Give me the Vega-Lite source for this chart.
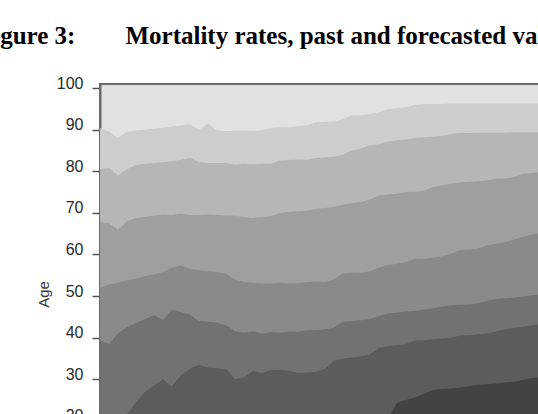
{
  "$schema": "https://vega.github.io/schema/vega-lite/v6.json",
  "autosize": {"type": "none"},
  "padding": {"left": 100, "top": 84, "right": 0, "bottom": 0},
  "width": 450,
  "height": 420,
  "background": "white",
  "title": {
    "text": "Figure 3:\u00a0\u00a0\u00a0\u00a0\u00a0\u00a0\u00a0\u00a0Mortality rates, past and forecasted values",
    "anchor": "start",
    "frame": "group",
    "dx": -122,
    "offset": 6,
    "baseline": "alphabetic",
    "font": "Liberation Serif",
    "fontSize": 25,
    "fontWeight": "bold",
    "color": "#000000"
  },
  "config": {
    "view": {"stroke": "#6a6a6a", "strokeWidth": 2, "fill": "#e1e1e1"},
    "axis": {"grid": false, "zindex": 1}
  },
  "data": {
    "values": [
      {"year": 1900, "b1": 90.4, "b2": 80.5, "b3": 67.8, "b4": 52.0, "b5": 39.4, "b6": 14.0, "b7": 8.0},
      {"year": 1903, "b1": 89.5, "b2": 80.8, "b3": 67.5, "b4": 52.8, "b5": 38.5, "b6": 15.0, "b7": 8.5},
      {"year": 1906, "b1": 88.0, "b2": 79.0, "b3": 66.0, "b4": 53.2, "b5": 41.0, "b6": 17.0, "b7": 9.0},
      {"year": 1909, "b1": 89.5, "b2": 80.5, "b3": 68.0, "b4": 53.8, "b5": 42.5, "b6": 21.5, "b7": 9.5},
      {"year": 1912, "b1": 89.8, "b2": 81.5, "b3": 68.8, "b4": 54.2, "b5": 43.5, "b6": 24.5, "b7": 10.0},
      {"year": 1915, "b1": 90.0, "b2": 81.8, "b3": 69.0, "b4": 54.8, "b5": 44.5, "b6": 27.0, "b7": 10.5},
      {"year": 1918, "b1": 90.3, "b2": 82.0, "b3": 69.4, "b4": 55.2, "b5": 45.4, "b6": 28.5, "b7": 11.0},
      {"year": 1921, "b1": 90.5, "b2": 82.2, "b3": 69.6, "b4": 55.8, "b5": 44.3, "b6": 30.0, "b7": 11.5},
      {"year": 1924, "b1": 90.8, "b2": 82.4, "b3": 69.5, "b4": 56.8, "b5": 46.8, "b6": 28.2, "b7": 12.0},
      {"year": 1927, "b1": 91.0, "b2": 82.8, "b3": 69.8, "b4": 57.4, "b5": 46.2, "b6": 31.0, "b7": 12.5},
      {"year": 1930, "b1": 91.3, "b2": 83.2, "b3": 69.5, "b4": 56.5, "b5": 45.5, "b6": 32.5, "b7": 13.0},
      {"year": 1933, "b1": 90.0, "b2": 82.2, "b3": 69.5, "b4": 56.2, "b5": 44.0, "b6": 33.5, "b7": 13.5},
      {"year": 1936, "b1": 91.5, "b2": 82.0, "b3": 69.6, "b4": 56.0, "b5": 43.8, "b6": 32.8, "b7": 14.0},
      {"year": 1939, "b1": 89.8, "b2": 82.0, "b3": 69.5, "b4": 55.8, "b5": 43.6, "b6": 32.6, "b7": 14.5},
      {"year": 1942, "b1": 89.7, "b2": 82.0, "b3": 69.4, "b4": 55.3, "b5": 43.0, "b6": 32.4, "b7": 15.0},
      {"year": 1945, "b1": 89.7, "b2": 81.6, "b3": 69.3, "b4": 54.0, "b5": 41.6, "b6": 30.0, "b7": 15.3},
      {"year": 1948, "b1": 89.8, "b2": 81.8, "b3": 69.0, "b4": 53.4, "b5": 41.2, "b6": 30.5, "b7": 15.6},
      {"year": 1951, "b1": 89.7, "b2": 81.7, "b3": 68.8, "b4": 53.2, "b5": 41.5, "b6": 32.0, "b7": 16.0},
      {"year": 1954, "b1": 89.8, "b2": 81.8, "b3": 69.0, "b4": 53.0, "b5": 41.0, "b6": 31.5, "b7": 16.3},
      {"year": 1957, "b1": 90.4, "b2": 81.8, "b3": 69.2, "b4": 53.0, "b5": 41.3, "b6": 32.2, "b7": 16.6},
      {"year": 1960, "b1": 90.6, "b2": 82.6, "b3": 70.0, "b4": 53.2, "b5": 41.2, "b6": 32.3, "b7": 17.0},
      {"year": 1963, "b1": 90.6, "b2": 82.7, "b3": 70.2, "b4": 53.0, "b5": 41.5, "b6": 32.0, "b7": 17.3},
      {"year": 1966, "b1": 90.8, "b2": 82.8, "b3": 70.4, "b4": 53.1, "b5": 41.4, "b6": 31.5, "b7": 17.6},
      {"year": 1969, "b1": 91.0, "b2": 82.8, "b3": 70.5, "b4": 53.4, "b5": 41.8, "b6": 31.6, "b7": 18.0},
      {"year": 1972, "b1": 91.8, "b2": 83.2, "b3": 71.0, "b4": 53.5, "b5": 41.8, "b6": 31.8, "b7": 18.2},
      {"year": 1975, "b1": 91.9, "b2": 83.4, "b3": 71.2, "b4": 53.4, "b5": 42.0, "b6": 32.5, "b7": 18.4},
      {"year": 1978, "b1": 92.0, "b2": 83.5, "b3": 71.4, "b4": 54.0, "b5": 42.4, "b6": 34.5, "b7": 18.6},
      {"year": 1981, "b1": 92.5, "b2": 84.0, "b3": 72.0, "b4": 55.4, "b5": 43.8, "b6": 35.0, "b7": 18.8},
      {"year": 1984, "b1": 93.5, "b2": 85.0, "b3": 72.3, "b4": 55.6, "b5": 44.0, "b6": 35.2, "b7": 19.0},
      {"year": 1987, "b1": 93.5, "b2": 85.5, "b3": 72.6, "b4": 55.6, "b5": 44.2, "b6": 35.5, "b7": 19.2},
      {"year": 1990, "b1": 93.8, "b2": 86.3, "b3": 73.2, "b4": 56.0, "b5": 44.4, "b6": 36.0, "b7": 19.4},
      {"year": 1993, "b1": 94.2, "b2": 86.5, "b3": 74.2, "b4": 56.8, "b5": 45.2, "b6": 37.5, "b7": 19.6},
      {"year": 1996, "b1": 95.0, "b2": 87.2, "b3": 74.4, "b4": 57.5, "b5": 45.8, "b6": 38.0, "b7": 20.5},
      {"year": 1999, "b1": 95.2, "b2": 87.5, "b3": 74.6, "b4": 57.8, "b5": 46.0, "b6": 38.2, "b7": 24.3},
      {"year": 2002, "b1": 95.4, "b2": 87.6, "b3": 75.0, "b4": 58.2, "b5": 46.3, "b6": 38.5, "b7": 25.0},
      {"year": 2005, "b1": 96.0, "b2": 88.0, "b3": 75.1, "b4": 59.0, "b5": 46.4, "b6": 39.3, "b7": 25.6},
      {"year": 2008, "b1": 96.2, "b2": 88.2, "b3": 75.3, "b4": 59.0, "b5": 46.8, "b6": 39.4, "b7": 26.5},
      {"year": 2011, "b1": 96.2, "b2": 88.3, "b3": 76.2, "b4": 59.2, "b5": 47.0, "b6": 39.6, "b7": 27.4},
      {"year": 2014, "b1": 96.2, "b2": 88.5, "b3": 76.6, "b4": 59.6, "b5": 47.5, "b6": 39.8, "b7": 27.7},
      {"year": 2017, "b1": 96.3, "b2": 89.0, "b3": 77.0, "b4": 60.2, "b5": 47.8, "b6": 40.0, "b7": 27.8},
      {"year": 2020, "b1": 96.3, "b2": 89.2, "b3": 77.4, "b4": 61.0, "b5": 47.9, "b6": 40.5, "b7": 28.0},
      {"year": 2023, "b1": 96.3, "b2": 89.2, "b3": 77.5, "b4": 61.2, "b5": 48.0, "b6": 40.6, "b7": 28.3},
      {"year": 2026, "b1": 96.3, "b2": 89.3, "b3": 77.6, "b4": 61.4, "b5": 48.3, "b6": 40.8, "b7": 28.7},
      {"year": 2029, "b1": 96.3, "b2": 89.3, "b3": 77.8, "b4": 62.2, "b5": 48.8, "b6": 41.0, "b7": 28.8},
      {"year": 2032, "b1": 96.3, "b2": 89.3, "b3": 78.2, "b4": 62.6, "b5": 49.3, "b6": 41.5, "b7": 29.0},
      {"year": 2035, "b1": 96.3, "b2": 89.3, "b3": 78.3, "b4": 63.0, "b5": 49.5, "b6": 42.0, "b7": 29.2},
      {"year": 2038, "b1": 96.3, "b2": 89.4, "b3": 78.6, "b4": 63.6, "b5": 49.6, "b6": 42.3, "b7": 29.4},
      {"year": 2041, "b1": 96.3, "b2": 89.4, "b3": 79.4, "b4": 64.2, "b5": 49.9, "b6": 42.6, "b7": 29.8},
      {"year": 2044, "b1": 96.3, "b2": 89.4, "b3": 79.6, "b4": 64.8, "b5": 50.2, "b6": 43.0, "b7": 30.3},
      {"year": 2047, "b1": 96.3, "b2": 89.4, "b3": 79.8, "b4": 65.2, "b5": 50.4, "b6": 43.2, "b7": 30.5},
      {"year": 2050, "b1": 96.3, "b2": 89.4, "b3": 80.0, "b4": 65.5, "b5": 50.6, "b6": 43.4, "b7": 30.7}
    ]
  },
  "encoding": {
    "x": {
      "field": "year",
      "type": "quantitative",
      "scale": {"domain": [1900, 2050], "nice": false, "zero": false},
      "axis": null
    }
  },
  "layer": [
    {
      "mark": {"type": "area", "color": "#cdcdcd"},
      "encoding": {
        "y": {
          "field": "b1",
          "type": "quantitative",
          "scale": {"domain": [0, 101], "nice": false},
          "axis": {
            "title": "Age",
            "values": [20, 30, 40, 50, 60, 70, 80, 90, 100],
            "domainColor": "#6a6a6a",
            "domainWidth": 2,
            "tickColor": "#555555",
            "tickWidth": 1.5,
            "tickSize": 8,
            "labelPadding": 9,
            "labelBaseline": "alphabetic",
            "labelOffset": 0,
            "labelFont": "Liberation Sans",
            "labelFontSize": 16,
            "labelColor": "#2a2a2a",
            "titleFont": "Liberation Sans",
            "titleFontSize": 15,
            "titleFontWeight": "normal",
            "titleColor": "#333333",
            "titlePadding": 5
          }
        }
      }
    },
    {"mark": {"type": "area", "color": "#b6b6b6"}, "encoding": {"y": {"field": "b2", "type": "quantitative"}}},
    {"mark": {"type": "area", "color": "#9f9f9f"}, "encoding": {"y": {"field": "b3", "type": "quantitative"}}},
    {"mark": {"type": "area", "color": "#8a8a8a"}, "encoding": {"y": {"field": "b4", "type": "quantitative"}}},
    {"mark": {"type": "area", "color": "#727272"}, "encoding": {"y": {"field": "b5", "type": "quantitative"}}},
    {"mark": {"type": "area", "color": "#5c5c5c"}, "encoding": {"y": {"field": "b6", "type": "quantitative"}}},
    {"mark": {"type": "area", "color": "#434343"}, "encoding": {"y": {"field": "b7", "type": "quantitative"}}}
  ]
}
